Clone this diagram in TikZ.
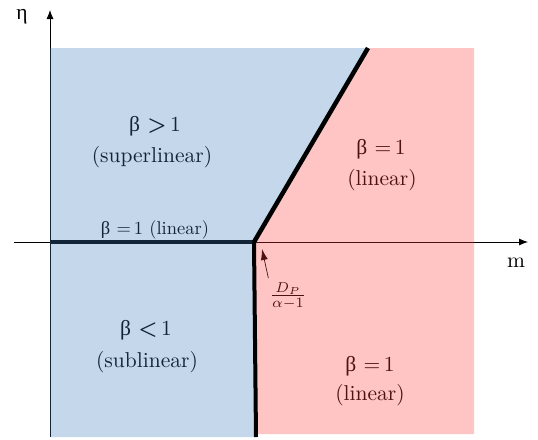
\documentclass[tikz,border=0pt]{standalone}
\usepackage{fontspec}
\newfontfamily\grk{Liberation Serif}
\usetikzlibrary{arrows.meta}
\definecolor{bluebase}{RGB}{62,122,185}
\definecolor{pinkbase}{RGB}{255,58,58}
\tikzset{
  axis/.style={line width=0.8pt,-{Latex[length=9pt,width=7pt]}},
  lbl/.style={font=\normalsize,align=center,inner sep=0pt,scale=2.15,transform shape},
  bound/.style={line width=4.5pt,black},
  overlay blue/.style={fill=bluebase,fill opacity=0.3,draw=none},
  overlay pink/.style={fill=pinkbase,fill opacity=0.3,draw=none},
}
\begin{document}
\begin{tikzpicture}[x=1pt,y=-1pt]
\useasboundingbox (0,0) rectangle (538,439);
% axes
\coordinate (ybot) at (50,437);
\coordinate (ytop) at (50,10);
\coordinate (xleft) at (14,242);
\coordinate (xright) at (528,242);
\coordinate (O) at (254,242);
\coordinate (tip) at (262,249);
\coordinate (dtop) at (368,48);
\coordinate (vbot) at (256,437);
\coordinate (hleft) at (50,242);
\draw[axis] (ybot) -- (ytop);
\draw[axis] (xleft) -- (xright);
\node[lbl] (eta) at (22,17) {\grk η};
\node[lbl] (m) at (516,263) {m};
% thick horizontal boundary
\draw[line width=4pt,black] (hleft) -- (O);
% labels
\node[lbl] (sup1) at (155,126) {{\grk β} {\bfseries >}\,1};
\node[lbl] (sup2) at (152,157) {(superlinear)};
\node[lbl] (lin1) at (381,149) {{\grk β} =\,1};
\node[lbl] (lin2) at (382,180) {(linear)};
\node[lbl,scale=0.86] (linax) at (155,230) {{\grk β} =\,1 (linear)};
\node[lbl] (sub1) at (146,330) {{\grk β} {\bfseries <}\,1};
\node[lbl] (sub2) at (147,362) {(sublinear)};
\node[lbl] (lin3) at (370,366) {{\grk β} =\,1};
\node[lbl] (lin4) at (370,395) {(linear)};
\node[lbl,scale=0.95] (frac) at (288,296) {$\textstyle\frac{D_P}{\alpha-1}$};
\draw[line width=0.7pt,-{Latex[length=11pt,width=7pt]}] ([shift={(-1,-4)}]frac.north west) -- (tip);
% overlays
\path[overlay blue] (50,48) -- (dtop) -- (O) -- (vbot) -- (50,437) -- cycle;
\path[overlay pink] (dtop) -- (474,48) -- (474,434) -- (256,434) -- (O) -- cycle;
% boundaries on top
\draw[bound] (O) -- (dtop);
\draw[line width=4pt,black] (O) -- (vbot);
\end{tikzpicture}
\end{document}
